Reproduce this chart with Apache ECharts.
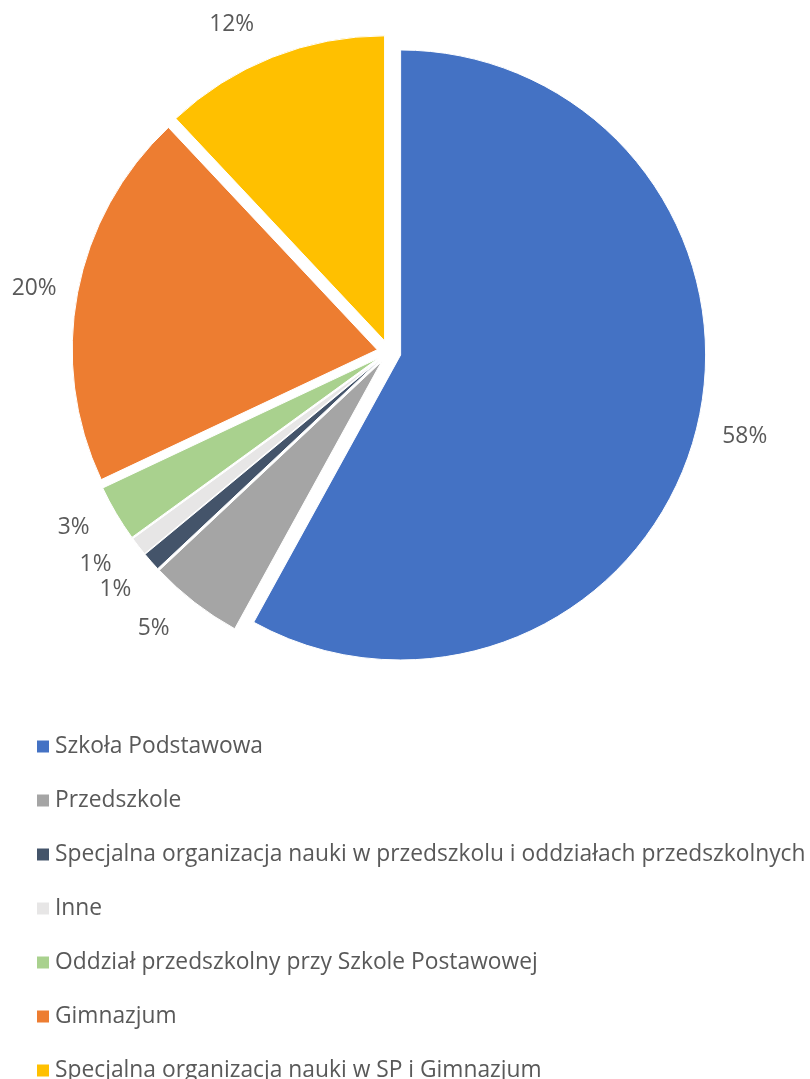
<!DOCTYPE html>
<html>
<head>
<meta charset="utf-8">
<script src="https://cdn.jsdelivr.net/npm/echarts@6/dist/echarts.min.js"></script>
<style>
	html, body { margin: 0; padding: 0; background: #fff; }
	#chart { width: 810px; height: 1079px; }
</style>
</head>
<body>
<div id="chart"></div>
<script>
	var categories = [
		'Szkoła Podstawowa',
		'Przedszkole',
		'Specjalna organizacja nauki w przedszkolu i oddziałach przedszkolnych',
		'Inne',
		'Oddział przedszkolny przy Szkole Postawowej',
		'Gimnazjum',
		'Specjalna organizacja nauki w SP i Gimnazjum'
	];
	var shares = [58, 5, 1, 1, 3, 20, 12];
	var colors = ['#4472C4', '#A5A5A5', '#44546A', '#E7E6E6', '#A9D18E', '#ED7D31', '#FFC000'];

	var total = shares.reduce(function (a, b) { return a + b; }, 0);
	var acc = 0;
	var pieData = categories.map(function (name, i) {
		// mid angle of the slice, so labels on top/bottom sit a bit further out
		var mid = (acc + shares[i] / 2) / total * Math.PI * 2;
		acc += shares[i];
		return {
			name: name,
			value: shares[i],
			selected: true,
			itemStyle: { color: colors[i] },
			labelLine: { show: false, length: 17 + 20 * Math.abs(Math.cos(mid)), length2: 0 }
		};
	});

	var chart = echarts.init(document.getElementById('chart'));
	chart.setOption({
		animation: false,
		legend: {
			orient: 'vertical',
			left: 35,
			top: 735,
			height: 420,
			padding: 0,
			icon: 'rect',
			itemWidth: 14,
			itemHeight: 14,
			itemGap: 31,
			data: categories,
			textStyle: {
				fontFamily: 'Open Sans',
				fontSize: 22.8,
				lineHeight: 23,
				color: '#595959'
			}
		},
		series: [{
			type: 'pie',
			center: [389, 352],
			radius: [0, 305],
			startAngle: 90,
			clockwise: true,
			selectedMode: 'multiple',
			selectedOffset: 12,
			avoidLabelOverlap: true,
			itemStyle: { borderColor: '#fff', borderWidth: 1 },
			select: { itemStyle: { borderColor: '#fff', borderWidth: 1 } },
			emphasis: { scale: false },
			label: {
				show: true,
				position: 'outside',
				formatter: '{c}%',
				fontFamily: 'Open Sans',
				fontSize: 22.8,
				color: '#595959'
			},
			labelLine: { show: false },
			data: pieData
		}]
	});
</script>
</body>
</html>
